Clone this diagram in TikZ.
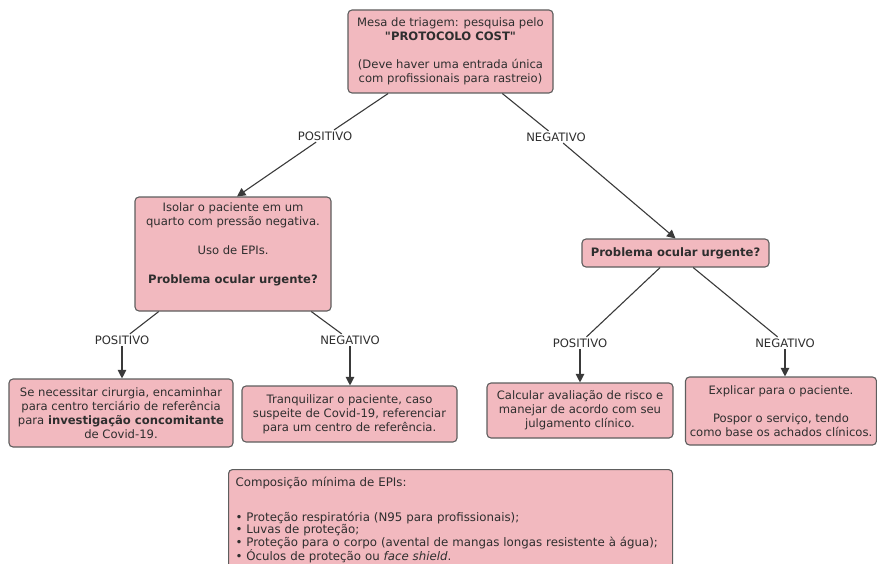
\documentclass[tikz,border=0pt]{standalone}
\usepackage{fontspec}
\setmainfont{DejaVu Sans}[Ligatures=TeXOff]
\usetikzlibrary{arrows.meta}
\definecolor{trFill}{HTML}{F2B9BF}
\definecolor{trEdge}{HTML}{5E5E5E}
\definecolor{trInk}{HTML}{2E2E2E}
\definecolor{trLine}{HTML}{3A3A3A}
\tikzset{
  tr box/.style={
    draw=trEdge,
    fill=trFill,
    line width=1.1pt,
    rounded corners=4pt,
    align=center,
    text=trInk,
    font=\fontsize{11.6}{14}\selectfont,
    inner sep=0pt
  },
  tr list/.style={
    tr box,
    align=left,
    text width=430pt,
    inner xsep=7pt,
    inner ysep=8pt,
    font=\fontsize{11.8}{12.4}\selectfont
  },
  tr label/.style={fill=white, text=trInk, inner sep=1.5pt,
    font=\fontsize{11.6}{14}\selectfont},
  tr link/.style={draw=trLine, line width=1.1pt},
  tr arrow/.style={
    tr link,
    -{Triangle[length=8.5pt,width=8.5pt]}
  }
}

\begin{document}
\begin{tikzpicture}[x=1pt,y=-1pt]
  \useasboundingbox (0,0) rectangle (877,564);

  \node[tr box, minimum width=205pt, minimum height=83pt] (triage) at (450.5,51.5)
    {Mesa de triagem: pesquisa pelo\\ \textbf{"PROTOCOLO COST"}\\[14pt]
     (Deve haver uma entrada única\\com profissionais para rastreio)};

  \node[tr box, minimum width=196pt, minimum height=114pt] (isolar) at (233,254)
    {Isolar o paciente em um\\quarto com pressão negativa.\\[15pt]
     Uso de EPIs.\\[15pt]
     \textbf{Problema ocular urgente?}\\[7pt]\mbox{}};
  \node[tr box, minimum width=187pt, minimum height=28pt] (urgent) at (675.5,253)
    {\textbf{Problema ocular urgente?}};

  \node[tr box, minimum width=224pt, minimum height=68pt] (surgery) at (121,413)
    {Se necessitar cirurgia, encaminhar\\para centro terciário de referência\\
     para \textbf{investigação concomitante}\\de Covid-19.};
  \node[tr box, minimum width=215pt, minimum height=56pt] (calm) at (349.5,414)
    {Tranquilizar o paciente, caso\\suspeite de Covid-19, referenciar\\
     para um centro de referência.};
  \node[tr box, minimum width=186pt, minimum height=55pt] (risk) at (580,410.5)
    {Calcular avaliação de risco e\\manejar de acordo com seu\\julgamento clínico.};
  \node[tr box, minimum width=191pt, minimum height=68pt] (delay) at (781,411)
    {Explicar para o paciente.\\[14pt]
     Pospor o serviço, tendo\\como base os achados clínicos.};

  \node[tr list, anchor=north west] (epis) at (228,469)
    {Composição mínima de EPIs:\\[22pt]
     • Proteção respiratória (N95 para profissionais);\\
     • Luvas de proteção;\\
     • Proteção para o corpo (avental de mangas longas resistente à água);\\
     • Óculos de proteção ou \textit{face shield}.\\[20pt]\mbox{}};

  \node[tr label] (posA) at (325,136) {POSITIVO};
  \node[tr label] (negA) at (556,137) {NEGATIVO};
  \node[tr label] (posB) at (122,340) {POSITIVO};
  \node[tr label] (negB) at (350,340) {NEGATIVO};
  \node[tr label] (posC) at (580,343) {POSITIVO};
  \node[tr label] (negC) at (785,343) {NEGATIVO};

  \draw[tr link] (triage) -- (posA);
  \draw[tr arrow] (posA) -- ([xshift=4pt]isolar.north);
  \draw[tr link] (triage) -- (negA);
  \draw[tr arrow] (negA) -- (urgent.north);
  \draw[tr link] (isolar) -- (posB);
  \draw[tr link] (isolar) -- (negB);
  \draw[tr link] (urgent) -- (posC);
  \draw[tr link] (urgent) -- (negC);
  \foreach \lbl/\dest in {posB/surgery, negB/calm, posC/risk, negC/delay} {
    \draw[tr arrow] (\lbl) -- (\lbl |- \dest.north);
  }
\end{tikzpicture}
\end{document}
